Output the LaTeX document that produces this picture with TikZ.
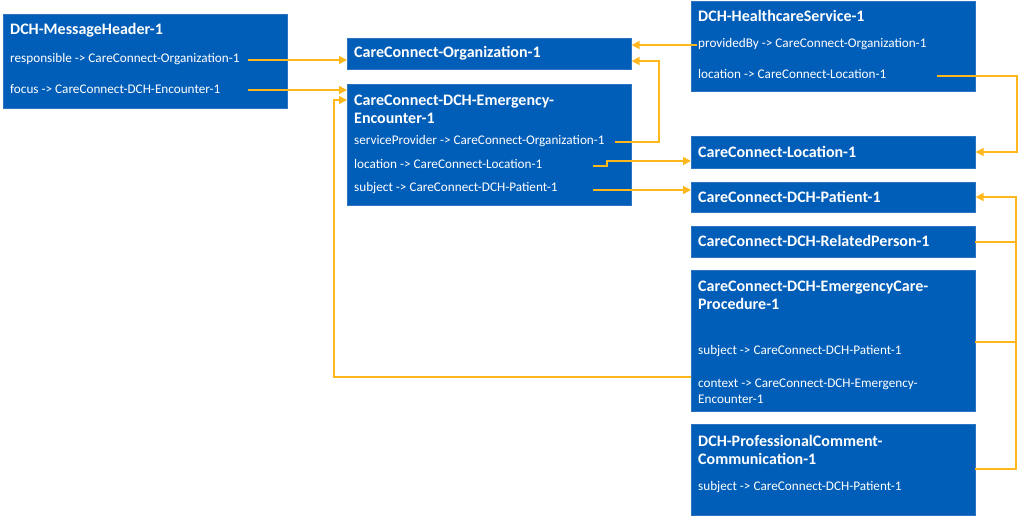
\documentclass[tikz,border=0pt]{standalone}
\usepackage{fontspec}
\setmainfont{Carlito}
\usetikzlibrary{arrows.meta}
\definecolor{nhsblue}{HTML}{005EB8}
\definecolor{boxedge}{HTML}{2D75C2}
\definecolor{conncol}{HTML}{FFB81C}
\begin{document}
\begin{tikzpicture}[x=1pt,y=-1pt,
  box/.style={fill=nhsblue,draw=boxedge,line width=0.6pt,anchor=north west,inner sep=0pt},
  ttl/.style={text=white,font=\bfseries\fontsize{16}{18}\selectfont,anchor=west,align=left,inner sep=0pt},
  fld/.style={text=white,font=\fontsize{13.2}{16}\selectfont,anchor=west,align=left,inner sep=0pt},
  wire/.style={draw=conncol,line width=1.6pt},
  conn/.style={wire,-{Triangle[length=8pt,width=8pt]}}]
\useasboundingbox (0,0) rectangle (1019,516);
% boxes
\node[box,minimum width=284pt,minimum height=94pt] (mh) at (3,14) {};
\node[box,minimum width=284pt,minimum height=31pt] (org) at (347,38) {};
\node[box,minimum width=284pt,minimum height=121pt] (enc) at (347,84) {};
\node[box,minimum width=284pt,minimum height=90pt] (hs) at (691,1) {};
\node[box,minimum width=284pt,minimum height=32pt] (loc) at (691,136) {};
\node[box,minimum width=284pt,minimum height=30pt] (pat) at (691,182) {};
\node[box,minimum width=284pt,minimum height=31pt] (rp) at (691,226) {};
\node[box,minimum width=284pt,minimum height=141pt] (proc) at (691,270) {};
\node[box,minimum width=284pt,minimum height=91pt] (pc) at (691,424) {};
% texts
\node[ttl] (mht) at (10,30) {DCH-MessageHeader-1};
\node[fld] (mhr) at (10,59) {responsible -> CareConnect-Organization-1};
\node[fld] (mhf) at (10,89) {focus -> CareConnect-DCH-Encounter-1};
\node[ttl] (orgt) at (354,53) {CareConnect-Organization-1};
\node[ttl] (enct) at (354,109) {CareConnect-DCH-Emergency-\\Encounter-1};
\node[fld] (encs) at (354,141) {serviceProvider -> CareConnect-Organization-1};
\node[fld] (encl) at (354,164) {location -> CareConnect-Location-1};
\node[fld] (encp) at (354,188) {subject -> CareConnect-DCH-Patient-1};
\node[ttl] (hst) at (698,16) {DCH-HealthcareService-1};
\node[fld] (hsp) at (698,44) {providedBy -> CareConnect-Organization-1};
\node[fld] (hsl) at (698,74) {location -> CareConnect-Location-1};
\node[ttl] (loct) at (698,152) {CareConnect-Location-1};
\node[ttl] (patt) at (698,197) {CareConnect-DCH-Patient-1};
\node[ttl] (rpt) at (698,241) {CareConnect-DCH-RelatedPerson-1};
\node[ttl] (proct) at (698,295) {CareConnect-DCH-EmergencyCare-\\Procedure-1};
\node[fld] (procs) at (698,351) {subject -> CareConnect-DCH-Patient-1};
\node[fld] (procc) at (698,391) {context -> CareConnect-DCH-Emergency-\\Encounter-1};
\node[ttl] (pct) at (698,450) {DCH-ProfessionalComment-\\Communication-1};
\node[fld] (pcs) at (698,487) {subject -> CareConnect-DCH-Patient-1};
% connector anchor points
\coordinate (c1) at (248,60);
\coordinate (c2) at (248,90);
\coordinate (c3) at (691,377);
\coordinate (k3) at (334,100);
\coordinate (c4) at (615,142);
\coordinate (k4) at (659,61);
\coordinate (c5) at (697,45);
\coordinate (c6) at (937,76);
\coordinate (k6) at (1017,152);
\coordinate (c7) at (593,166);
\coordinate (k7) at (607,161);
\coordinate (c8) at (593,190);
\coordinate (k9) at (1016,197);
\coordinate (c9a) at (975,242);
\coordinate (c9b) at (975,342);
\coordinate (c9c) at (975,469);
% connectors
\draw[conn] (c1) -- (c1 -| org.west);
\draw[conn] (c2) -- (c2 -| enc.west);
\draw[conn] (c3) -| (k3) -- (k3 -| enc.west);
\draw[conn] (c4) -| (k4) -- (k4 -| org.east);
\draw[conn] (c5) -- (c5 -| org.east);
\draw[conn] (c6) -| (k6) -- (k6 -| loc.east);
\draw[conn] (c7) -| (k7) -- (k7 -| loc.west);
\draw[conn] (c8) -- (c8 -| pat.west);
\draw[wire] (c9a) -- (c9a -| k9);
\draw[wire] (c9b) -- (c9b -| k9);
\draw[conn] (c9c) -| (k9) -- (k9 -| pat.east);
\end{tikzpicture}
\end{document}
